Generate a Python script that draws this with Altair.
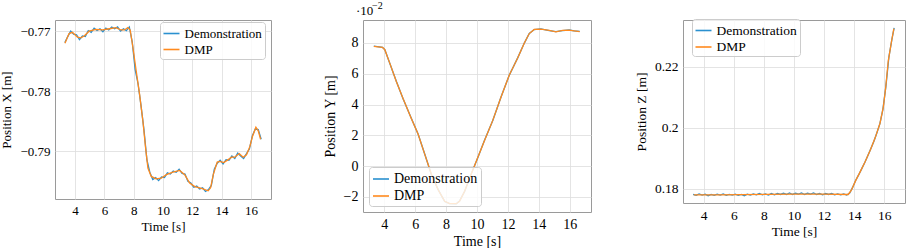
import altair as alt
import pandas as pd

FONT = "Liberation Serif"
BLUE = "#2a90cf"
ORANGE = "#ff8a1e"
SERIES = ["Demonstration", "DMP"]

# ---------------- Panel X ----------------
x_dmp_t = [3.31, 3.59, 3.82, 4.16, 4.39, 4.62, 4.96, 5.42, 5.88, 6.34, 6.79, 7.13, 7.37, 7.6, 7.76,
           7.94, 8.17, 8.4, 8.63, 8.81, 8.97, 9.2, 9.53, 9.88, 10.23, 10.68, 11.14, 11.48, 11.82,
           12.17, 12.63, 13.08, 13.25, 13.43, 13.7, 13.88, 14.15, 14.45, 14.68, 14.9, 15.2, 15.47,
           15.7, 15.93, 16.11, 16.34, 16.5, 16.66]
x_dmp_v = [-0.7720, -0.7704, -0.7702, -0.7710, -0.7711, -0.7708, -0.7700, -0.7697, -0.7698, -0.7696,
           -0.7694, -0.7698, -0.7698, -0.7694, -0.7698, -0.7726, -0.7766, -0.7805, -0.7850, -0.7894,
           -0.7928, -0.7942, -0.7946, -0.7945, -0.7939, -0.7935, -0.7932, -0.7939, -0.7953, -0.7959,
           -0.7962, -0.7966, -0.7961, -0.7939, -0.7918, -0.7917, -0.7919, -0.7914, -0.7910, -0.7910,
           -0.7904, -0.7910, -0.7906, -0.7892, -0.7875, -0.7860, -0.7866, -0.7880]
x_demo_t = [3.3, 3.5, 3.7, 3.9, 4.1, 4.3, 4.5, 4.7, 4.9, 5.1, 5.3, 5.5, 5.7, 5.9, 6.1, 6.3, 6.5, 6.7,
            6.9, 7.1, 7.3, 7.5, 7.7, 7.9, 8.1, 8.3, 8.5, 8.7, 8.9, 9.1, 9.3, 9.5, 9.7, 9.9, 10.1, 10.3,
            10.5, 10.7, 10.9, 11.1, 11.3, 11.5, 11.7, 11.9, 12.1, 12.3, 12.5, 12.7, 12.9, 13.1, 13.3,
            13.5, 13.7, 13.9, 14.1, 14.3, 14.5, 14.7, 14.9, 15.1, 15.3, 15.5, 15.7, 15.9, 16.1, 16.3,
            16.5, 16.7]
x_demo_v = [-0.7719, -0.7709, -0.7700, -0.7705, -0.7706, -0.7714, -0.7708, -0.7709, -0.7699, -0.7702,
            -0.7695, -0.7699, -0.7696, -0.7701, -0.7695, -0.7698, -0.7693, -0.7696, -0.7693, -0.7700,
            -0.7696, -0.7699, -0.7693, -0.7718, -0.7764, -0.7788, -0.7824, -0.7864, -0.7914, -0.7935,
            -0.7947, -0.7944, -0.7949, -0.7943, -0.7944, -0.7936, -0.7938, -0.7933, -0.7935, -0.7930,
            -0.7937, -0.7938, -0.7950, -0.7953, -0.7960, -0.7958, -0.7963, -0.7961, -0.7967, -0.7964,
            -0.7957, -0.7930, -0.7920, -0.7915, -0.7921, -0.7914, -0.7915, -0.7908, -0.7912, -0.7903,
            -0.7908, -0.7912, -0.7904, -0.7896, -0.7874, -0.7863, -0.7864, -0.7880]

# ---------------- Panel Y (units of 1e-2 m) ----------------
y_t = [3.33, 3.89, 4.04, 4.36, 4.79, 5.22, 5.76, 6.19, 6.62, 7.05, 7.48, 7.91, 8.23, 8.66, 8.87, 9.2,
       9.62, 10.05, 10.48, 11.02, 11.56, 12.09, 12.63, 13.06, 13.38, 13.7, 14.13, 14.67, 15.1, 15.53,
       15.96, 16.28, 16.64]
y_dmp_v = [7.78, 7.72, 7.56, 6.69, 5.48, 4.39, 3.08, 2.09, 0.78, -0.53, -1.52, -2.28, -2.44, -2.44,
           -2.28, -1.63, -0.53, 0.56, 1.65, 2.97, 4.50, 5.92, 7.02, 8.00, 8.61, 8.88, 8.90, 8.81, 8.72,
           8.81, 8.83, 8.79, 8.74]
y_demo_v = [7.79, 7.71, 7.57, 6.68, 5.49, 4.38, 3.09, 2.08, 0.79, -0.54, -1.51, -2.29, -2.43, -2.45,
            -2.27, -1.64, -0.52, 0.55, 1.66, 2.96, 4.51, 5.91, 7.03, 7.99, 8.62, 8.87, 8.91, 8.80, 8.73,
            8.80, 8.84, 8.78, 8.75]

# ---------------- Panel Z ----------------
z_dmp_t = [3.34, 5.0, 8.0, 10.0, 12.0, 13.6, 13.81, 14.07, 14.4, 14.73, 15.06, 15.39, 15.71, 15.93,
           16.09, 16.26, 16.48, 16.63]
z_dmp_v = [0.1780, 0.1780, 0.1781, 0.1782, 0.1782, 0.1781, 0.1795, 0.1824, 0.1856, 0.1889, 0.1926,
           0.1967, 0.2015, 0.2068, 0.2133, 0.2220, 0.2285, 0.2326]
z_demo_t = [3.3, 3.5, 3.7, 3.9, 4.1, 4.3, 4.5, 4.7, 4.9, 5.1, 5.3, 5.5, 5.7, 5.9, 6.1, 6.3, 6.5, 6.7,
            6.9, 7.1, 7.3, 7.5, 7.7, 7.9, 8.1, 8.3, 8.5, 8.7, 8.9, 9.1, 9.3, 9.5, 9.7, 9.9, 10.1, 10.3,
            10.5, 10.7, 10.9, 11.1, 11.3, 11.5, 11.7, 11.9, 12.1, 12.3, 12.5, 12.7, 12.9, 13.1, 13.3,
            13.5, 13.7, 13.9, 14.1, 14.3, 14.5, 14.7, 14.9, 15.1, 15.3, 15.5, 15.7, 15.9, 16.1, 16.3,
            16.5, 16.65]
z_demo_v = [0.1781, 0.1778, 0.1783, 0.1779, 0.1782, 0.1777, 0.1781, 0.1778, 0.1782, 0.1779, 0.1783,
            0.1778, 0.1781, 0.1779, 0.1782, 0.1778, 0.1781, 0.1777, 0.1782, 0.1779, 0.1783, 0.1780,
            0.1784, 0.1780, 0.1783, 0.1779, 0.1784, 0.1780, 0.1784, 0.1781, 0.1785, 0.1781, 0.1786,
            0.1781, 0.1785, 0.1782, 0.1786, 0.1781, 0.1785, 0.1782, 0.1786, 0.1781, 0.1784, 0.1780,
            0.1784, 0.1781, 0.1784, 0.1780, 0.1783, 0.1780, 0.1783, 0.1779, 0.1786, 0.1805, 0.1828,
            0.1846, 0.1866, 0.1886, 0.1908, 0.1931, 0.1955, 0.1983, 0.2013, 0.2060, 0.2135, 0.2232,
            0.2290, 0.2328]

X_TICKS = [4, 6, 8, 10, 12, 14, 16]
X_DOMAIN = [2.63, 17.37]


def frame(t, v, name):
    return pd.DataFrame({"t": t, "v": v, "s": name})


def panel(demo, dmp, ytitle, ydomain, yticks, yfmt, w, h, lx, ly, fs, lpad, rowpad, ssize,
          extra=None):
    color = alt.Color("s:N", title=None,
                      scale=alt.Scale(domain=SERIES, range=[BLUE, ORANGE]),
                      legend=alt.Legend(orient="none", legendX=lx, legendY=ly,
                                        symbolType="stroke", symbolSize=ssize,
                                        symbolStrokeWidth=1.6, labelFont=FONT,
                                        labelFontSize=fs, labelColor="#000",
                                        labelFontWeight="normal",
                                        labelOffset=4, fillColor="rgba(255,255,255,0.8)",
                                        strokeColor="#cccccc", cornerRadius=3,
                                        padding=lpad, rowPadding=rowpad))
    x = alt.X("t:Q", title="Time [s]",
              scale=alt.Scale(domain=X_DOMAIN, nice=False, zero=False),
              axis=alt.Axis(values=X_TICKS, format="d", labelFont=FONT, titleFont=FONT,
                            labelFontSize=fs, titleFontSize=fs,
                            labelPadding=5, titlePadding=3))
    y = alt.Y("v:Q", title=ytitle,
              scale=alt.Scale(domain=ydomain, nice=False, zero=False),
              axis=alt.Axis(values=yticks, format=yfmt, labelFont=FONT, titleFont=FONT,
                            labelFontSize=fs, titleFontSize=fs,
                            labelPadding=5, titlePadding=6))
    l1 = alt.Chart(demo).mark_line(strokeWidth=1.3).encode(x=x, y=y, color=color)
    l2 = alt.Chart(dmp).mark_line(strokeWidth=1.3).encode(x=x, y=y, color=color)
    layers = [l1, l2] + (extra or [])
    return alt.layer(*layers).properties(width=w, height=h)


p1 = panel(frame(x_demo_t, x_demo_v, "Demonstration"), frame(x_dmp_t, x_dmp_v, "DMP"),
           "Position X [m]", [-0.79796, -0.76814], [-0.79, -0.78, -0.77], ".2f",
           216, 179, 105, 2, 13, 2.5, 0, 256)

exp_a = alt.Chart(pd.DataFrame({"txt": ["·10"]})).mark_text(
    align="left", baseline="alphabetic", font=FONT, fontSize=13, color="#000"
).encode(text="txt:N", x=alt.value(-7), y=alt.value(-5))
exp_b = alt.Chart(pd.DataFrame({"txt": ["−2"]})).mark_text(
    align="left", baseline="alphabetic", font=FONT, fontSize=10, color="#000"
).encode(text="txt:N", x=alt.value(9), y=alt.value(-11))

p2 = panel(frame(y_t, y_demo_v, "Demonstration"), frame(y_t, y_dmp_v, "DMP"),
           "Position Y [m]", [-2.98, 9.49], [-2, 0, 2, 4, 6, 8], "d",
           228, 192, 6, 147, 14, 3, 1, 256, extra=[exp_a, exp_b])

p3 = panel(frame(z_demo_t, z_demo_v, "Demonstration"), frame(z_dmp_t, z_dmp_v, "DMP"),
           "Position Z [m]", [0.1753, 0.2354], [0.18, 0.2, 0.22], "~g",
           222, 183, 9, -1, 13.5, 2.5, 0.5, 256)

chart = alt.hconcat(p1, p2, p3, spacing=92, bounds="flush").resolve_scale(
    color="independent").resolve_legend(color="independent").properties(
    padding={"left": 0, "top": 0, "right": 0, "bottom": 0}, background="white"
).configure(font=FONT).configure_view(stroke="#9a9a9a", strokeWidth=1).configure_axis(
    labelFont=FONT, titleFont=FONT, labelColor="#000", titleColor="#000",
    titleFontWeight="normal", domain=False, ticks=False,
    gridColor="#dddddd", gridWidth=0.8
).configure_legend(labelFont=FONT)

chart.save("out.html", embed_options={"renderer": "svg", "actions": False})
